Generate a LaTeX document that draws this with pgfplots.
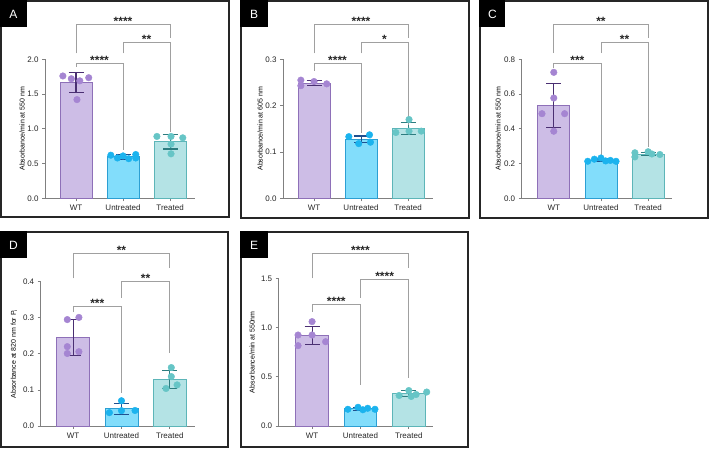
\documentclass[border=0pt]{standalone}
\usepackage{fontspec}
\setmainfont{Liberation Sans}
\usepackage{pgfplots}
\pgfplotsset{compat=1.18}

\definecolor{wtfill}{HTML}{CDBDE6}
\definecolor{wtedge}{HTML}{8E70B8}
\definecolor{wtdot}{HTML}{A585D2}
\definecolor{wterr}{HTML}{4A2F72}
\definecolor{unfill}{HTML}{82DDFB}
\definecolor{unedge}{HTML}{2C9FD3}
\definecolor{undot}{HTML}{1BB3EE}
\definecolor{unerr}{HTML}{1F4F8F}
\definecolor{trfill}{HTML}{B4E3E5}
\definecolor{tredge}{HTML}{5DB5B8}
\definecolor{trdot}{HTML}{66C5C6}
\definecolor{trerr}{HTML}{2C7C7F}
\definecolor{axgray}{HTML}{808080}
\definecolor{brkgray}{HTML}{A0A0A0}

\tikzset{stars/.style={font=\fontsize{12}{12}\selectfont\bfseries, anchor=base, yshift=-1.2pt, inner sep=0pt, text=black!85}}

\pgfplotsset{
  panel/.style={
    scale only axis, anchor=south west, clip=false,
    axis lines=left, axis line style={-, axgray, line width=0.9pt},
    tick style={axgray, line width=0.8pt}, major tick length=3pt, tick align=outside,
    xtick={0,1,2}, xticklabels={WT,Untreated,Treated},
    ymin=0,
    ticklabel style={font=\fontsize{8}{9}\selectfont, text=black!85},
    /pgf/number format/assume math mode=true,
    yticklabel style={/pgf/number format/.cd, fixed, fixed zerofill, precision=1},
    ylabel style={font=\fontsize{7}{8}\selectfont, anchor=center},
  },
  bar/.style={ybar, bar width=0.68, line width=0.8pt},
  dots/.style={only marks, mark=*, mark size=3.3pt, mark options={draw=none}},
  err/.style={draw=none, mark=none, error bars/.cd, y dir=both, y explicit,
    error mark=-,
    error bar style={draw=#1, line width=1.1pt},
    error mark options={draw=#1, line width=1.1pt, mark size=7.5pt, rotate=90}},
  brk/.style={draw=brkgray, line width=0.8pt, no markers, sharp plot},
}

\begin{document}
\begin{tikzpicture}
\path[use as bounding box] (0pt,0pt) rectangle (709pt,449pt);

% panel frames and letter tags
\begin{scope}[x=1pt, y=1pt]
\begin{scope}[line width=1.6pt, draw=black!85]
  \draw (0.8,232) rectangle (229,448.2);
  \draw (241,231) rectangle (469,448.2);
  \draw (480,231) rectangle (708.2,448.2);
  \draw (0.8,2) rectangle (228,217);
  \draw (241,2) rectangle (468,217);
\end{scope}
\fill[black] (0,422) rectangle (27,449);
\fill[black] (240.2,422) rectangle (268,449);
\fill[black] (479.2,422) rectangle (505,449);
\fill[black] (0,191) rectangle (27,217.8);
\fill[black] (240.2,191) rectangle (268,217.8);
\begin{scope}[every node/.style={text=white, font=\fontsize{12}{12}\selectfont}]
  \node at (13.5,435) {A};
  \node at (254,435) {B};
  \node at (492.5,435) {C};
  \node at (13.5,204) {D};
  \node at (254,204) {E};
\end{scope}
\end{scope}

% ---------------- A ----------------
\begin{axis}[panel, at={(45pt,250.7pt)}, width=150pt, height=139pt,
  xmin=-0.66, xmax=2.53, ymax=2, ytick={0,0.5,1,1.5,2},
  ylabel={Absorbance/min at 550 nm},
  ylabel style={at={(axis description cs:-0.153,0.5)}}]
\addplot[bar, fill=wtfill, draw=wtedge] coordinates {(0,1.665)};
\addplot[bar, fill=unfill, draw=unedge] coordinates {(1,0.598)};
\addplot[bar, fill=trfill, draw=tredge] coordinates {(2,0.814)};
\addplot[dots, wtdot] coordinates {(-0.28,1.76) (-0.10,1.72) (0.08,1.69) (0.27,1.735) (0.02,1.42)};
\addplot[dots, undot] coordinates {(0.74,0.62) (0.88,0.58) (1.0,0.61) (1.12,0.57) (1.27,0.63) (1.27,0.58)};
\addplot[dots, trdot] coordinates {(1.72,0.89) (2.02,0.89) (2.27,0.87) (2.02,0.78) (2.02,0.64)};
\addplot[err=wterr] coordinates {(0,1.665) +- (0,0.145)};
\addplot[err=unerr] coordinates {(1,0.598) +- (0,0.035)};
\addplot[err=trerr] coordinates {(2,0.814) +- (0,0.105)};
\addplot[brk] coordinates {(0,2.086) (0,2.508) (2,2.508) (2,2.311)};
\addplot[brk] coordinates {(1,2.086) (1,2.239) (2,2.239) (2,0.958)};
\addplot[brk] coordinates {(0,1.894) (0,1.942) (1,1.942) (1,0.695)};
\node[stars] at (axis cs:1,2.508) {****};
\node[stars] at (axis cs:1.5,2.239) {**};
\node[stars] at (axis cs:0.5,1.942) {****};
\end{axis}

% ---------------- B ----------------
\begin{axis}[panel, at={(283pt,250.7pt)}, width=150pt, height=139pt,
  xmin=-0.66, xmax=2.53, ymax=0.3, ytick={0,0.1,0.2,0.3},
  ylabel={Absorbance/min at 605 nm},
  ylabel style={at={(axis description cs:-0.153,0.5)}}]
\addplot[bar, fill=wtfill, draw=wtedge] coordinates {(0,0.249)};
\addplot[bar, fill=unfill, draw=unedge] coordinates {(1,0.127)};
\addplot[bar, fill=trfill, draw=tredge] coordinates {(2,0.1505)};
\addplot[dots, wtdot] coordinates {(-0.28,0.255) (-0.28,0.243) (0.0,0.252) (0.27,0.247)};
\addplot[dots, undot] coordinates {(0.74,0.133) (1.18,0.137) (0.95,0.118) (1.2,0.121)};
\addplot[dots, trdot] coordinates {(1.74,0.142) (2.02,0.170) (2.02,0.145) (2.28,0.145)};
\addplot[err=wterr] coordinates {(0,0.249) +- (0,0.005)};
\addplot[err=unerr] coordinates {(1,0.127) +- (0,0.0075)};
\addplot[err=trerr] coordinates {(2,0.1505) +- (0,0.0125)};
\addplot[brk] coordinates {(0,0.313) (0,0.376) (2,0.376) (2,0.347)};
\addplot[brk] coordinates {(1,0.313) (1,0.336) (2,0.336) (2,0.158)};
\addplot[brk] coordinates {(0,0.275) (0,0.291) (1,0.291) (1,0.140)};
\node[stars] at (axis cs:1,0.376) {****};
\node[stars] at (axis cs:1.5,0.336) {*};
\node[stars] at (axis cs:0.5,0.291) {****};
\end{axis}

% ---------------- C ----------------
\begin{axis}[panel, at={(521.7pt,250.7pt)}, width=150pt, height=139pt,
  xmin=-0.68, xmax=2.5, ymax=0.8, ytick={0,0.2,0.4,0.6,0.8},
  ylabel={Absorbance/min at 550 nm},
  ylabel style={at={(axis description cs:-0.158,0.5)}}]
\addplot[bar, fill=wtfill, draw=wtedge] coordinates {(0,0.532)};
\addplot[bar, fill=unfill, draw=unedge] coordinates {(1,0.219)};
\addplot[bar, fill=trfill, draw=tredge] coordinates {(2,0.255)};
\addplot[dots, wtdot] coordinates {(0,0.725) (0,0.577) (-0.25,0.487) (0.23,0.487) (0,0.386)};
\addplot[dots, undot] coordinates {(0.72,0.213) (0.86,0.225) (1.0,0.232) (1.1,0.215) (1.2,0.218) (1.32,0.213)};
\addplot[dots, trdot] coordinates {(1.72,0.262) (1.72,0.238) (2.0,0.268) (2.08,0.255) (2.25,0.252)};
\addplot[err=wterr] coordinates {(0,0.532) +- (0,0.127)};
\addplot[err=unerr] coordinates {(1,0.219) +- (0,0.007)};
\addplot[err=trerr] coordinates {(2,0.255) +- (0,0.011)};
\addplot[brk] coordinates {(0,0.835) (0,1.003) (2,1.003) (2,0.924)};
\addplot[brk] coordinates {(1,0.835) (1,0.896) (2,0.896) (2,0.297)};
\addplot[brk] coordinates {(0,0.748) (0,0.777) (1,0.777) (1,0.249)};
\node[stars] at (axis cs:1,1.003) {**};
\node[stars] at (axis cs:1.5,0.896) {**};
\node[stars] at (axis cs:0.5,0.777) {***};
\end{axis}

% ---------------- D ----------------
\begin{axis}[panel, at={(40.7pt,23pt)}, width=154.3pt, height=144.3pt,
  xmin=-0.67, xmax=2.52, ymax=0.4, ytick={0,0.1,0.2,0.3,0.4},
  ylabel={Absorbance at 820 nm for P\textsubscript{i}},
  ylabel style={at={(axis description cs:-0.173,0.5)}}]
\addplot[bar, fill=wtfill, draw=wtedge] coordinates {(0,0.2446)};
\addplot[bar, fill=unfill, draw=unedge] coordinates {(1,0.048)};
\addplot[bar, fill=trfill, draw=tredge] coordinates {(2,0.129)};
\addplot[dots, wtdot] coordinates {(-0.12,0.295) (0.12,0.301) (-0.12,0.220) (-0.12,0.201) (0.12,0.206)};
\addplot[dots, undot] coordinates {(0.75,0.037) (1.0,0.070) (1.0,0.0425) (1.28,0.043)};
\addplot[dots, trdot] coordinates {(2.03,0.162) (2.03,0.137) (1.92,0.104) (2.15,0.114)};
\addplot[err=wterr] coordinates {(0,0.2446) +- (0,0.05)};
\addplot[err=unerr] coordinates {(1,0.048) +- (0,0.015)};
\addplot[err=trerr] coordinates {(2,0.129) +- (0,0.025)};
\addplot[brk] coordinates {(0,0.409) (0,0.4785) (2,0.4785) (2,0.439)};
\addplot[brk] coordinates {(1,0.356) (1,0.400) (2,0.400) (2,0.201)};
\addplot[brk] coordinates {(0,0.315) (0,0.331) (1,0.331) (1,0.0905)};
\node[stars] at (axis cs:1,0.4785) {**};
\node[stars] at (axis cs:1.5,0.400) {**};
\node[stars] at (axis cs:0.5,0.331) {***};
\end{axis}

% ---------------- E ----------------
\begin{axis}[panel, at={(278.7pt,23pt)}, width=154.3pt, height=147.7pt,
  xmin=-0.69, xmax=2.5, ymax=1.5, ytick={0,0.5,1,1.5},
  ylabel={Absorbance/min at 550nm},
  ylabel style={at={(axis description cs:-0.173,0.5)}}]
\addplot[bar, fill=wtfill, draw=wtedge] coordinates {(0,0.916)};
\addplot[bar, fill=unfill, draw=unedge] coordinates {(1,0.175)};
\addplot[bar, fill=trfill, draw=tredge] coordinates {(2,0.327)};
\addplot[dots, wtdot] coordinates {(0,1.06) (-0.29,0.924) (0,0.924) (-0.29,0.816) (0.28,0.856)};
\addplot[dots, undot] coordinates {(0.74,0.170) (0.95,0.19) (1.05,0.165) (1.15,0.18) (1.3,0.17)};
\addplot[dots, trdot] coordinates {(1.8,0.31) (2.0,0.36) (2.15,0.32) (2.37,0.345) (2.05,0.30)};
\addplot[err=wterr] coordinates {(0,0.916) +- (0,0.092)};
\addplot[err=unerr] coordinates {(1,0.175) +- (0,0.015)};
\addplot[err=trerr] coordinates {(2,0.327) +- (0,0.032)};
\addplot[brk] coordinates {(0,1.50) (0,1.754) (2,1.754) (2,1.608)};
\addplot[brk] coordinates {(1,1.303) (1,1.493) (2,1.493) (2,0.484)};
\addplot[brk] coordinates {(0,1.161) (0,1.236) (1,1.236) (1,0.416)};
\node[stars] at (axis cs:1,1.754) {****};
\node[stars] at (axis cs:1.5,1.493) {****};
\node[stars] at (axis cs:0.5,1.236) {****};
\end{axis}
\end{tikzpicture}
\end{document}
